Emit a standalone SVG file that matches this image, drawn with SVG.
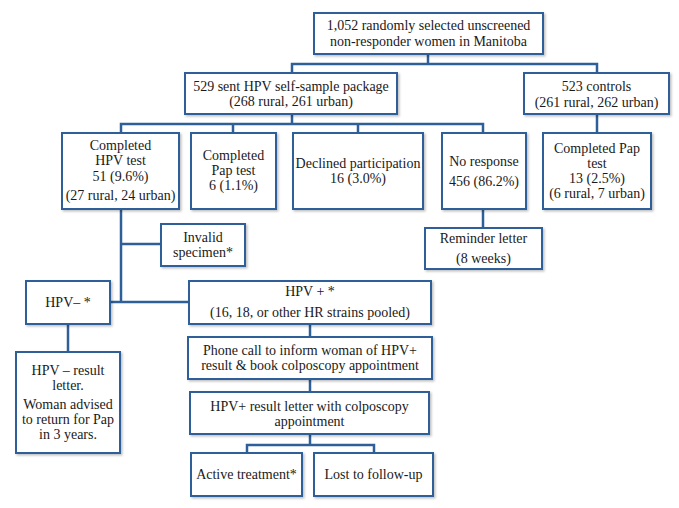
<svg xmlns="http://www.w3.org/2000/svg" width="679" height="508" viewBox="0 0 679 508">
<defs>
<filter id="sh" x="-5%" y="-5%" width="115%" height="120%">
<feDropShadow dx="1.5" dy="1.5" stdDeviation="0.8" flood-color="#000" flood-opacity="0.25"/>
</filter>
<style>
rect{fill:#fff;stroke:#2F5F98;stroke-width:2;filter:url(#sh)}
text{font-family:"Liberation Serif","Times New Roman",serif;font-size:14px;fill:#1a1a1a;text-anchor:middle}
.c path{fill:none;stroke:#2F5F98;stroke-width:2.5}
</style>
</defs>
<rect x="0" y="0" width="679" height="508" style="fill:#fff;stroke:none;filter:none"/>
<g class="c" id="connectors">
<path d="M428,54V64M292,73V64H597V73"/>
<path d="M292,114V124M121,133V124H483V133M233,124V133M358,124V133"/>
<path d="M597,114V133"/>
<path d="M483,209V228"/>
<path d="M121,209V302M121,244H161M110,302H189"/>
<path d="M68,324V352"/>
<path d="M310,324V337M310,379V392M310,434V445M247,453V445H374V453"/>
</g>
<g id="n-root"><rect x="314" y="13" width="229" height="41"/><text x="428.5" y="30">1,052 randomly selected unscreened</text><text x="428.5" y="46">non-responder women in Manitoba</text></g>
<g id="n-sent"><rect x="185" y="73" width="212" height="41"/><text x="291" y="91">529 sent HPV self-sample package</text><text x="291" y="106">(268 rural, 261 urban)</text></g>
<g id="n-controls"><rect x="524" y="73" width="145" height="41"/><text x="596.5" y="91">523 controls</text><text x="596.5" y="107">(261 rural, 262 urban)</text></g>
<g id="n-hpvtest"><rect x="62" y="133" width="117" height="76"/><text x="120.5" y="150">Completed</text><text x="120.5" y="165">HPV test</text><text x="120.5" y="181">51 (9.6%)</text><text x="120.5" y="200">(27 rural, 24 urban)</text></g>
<g id="n-paptest"><rect x="191" y="133" width="85" height="76"/><text x="233.5" y="160">Completed</text><text x="233.5" y="175">Pap test</text><text x="233.5" y="190">6 (1.1%)</text></g>
<g id="n-declined"><rect x="293" y="133" width="130" height="76"/><text x="358" y="168">Declined participation</text><text x="358" y="183">16 (3.0%)</text></g>
<g id="n-noresp"><rect x="442" y="133" width="84" height="76"/><text x="484" y="166">No response</text><text x="484" y="186">456 (86.2%)</text></g>
<g id="n-ctrlpap"><rect x="543" y="133" width="108" height="76"/><text x="597" y="153">Completed Pap</text><text x="597" y="168">test</text><text x="597" y="183">13 (2.5%)</text><text x="597" y="198">(6 rural, 7 urban)</text></g>
<g id="n-reminder"><rect x="425" y="228" width="117" height="41"/><text x="483.5" y="243">Reminder letter</text><text x="483.5" y="263">(8 weeks)</text></g>
<g id="n-invalid"><rect x="161" y="224" width="84" height="42"/><text x="203" y="242">Invalid</text><text x="203" y="257">specimen*</text></g>
<g id="n-hpvneg"><rect x="26" y="281" width="84" height="43"/><text x="68" y="307">HPV– *</text></g>
<g id="n-hpvpos"><rect x="189" y="281" width="242" height="43"/><text x="310" y="296">HPV + *</text><text x="310" y="317">(16, 18, or other HR strains pooled)</text></g>
<g id="n-negletter"><rect x="16" y="352" width="104" height="101"/><text x="68" y="375">HPV – result</text><text x="68" y="390">letter.</text><text x="68" y="409">Woman advised</text><text x="68" y="424">to return for Pap</text><text x="68" y="439">in 3 years.</text></g>
<g id="n-phone"><rect x="188" y="337" width="244" height="42"/><text x="310" y="355">Phone call to inform woman of HPV+</text><text x="310" y="370">result &amp; book colposcopy appointment</text></g>
<g id="n-posletter"><rect x="190" y="392" width="239" height="42"/><text x="309.5" y="411">HPV+ result letter with colposcopy</text><text x="309.5" y="426">appointment</text></g>
<g id="n-active"><rect x="191" y="453" width="111" height="43"/><text x="246.5" y="479">Active treatment*</text></g>
<g id="n-lost"><rect x="314" y="453" width="119" height="43"/><text x="373.5" y="479">Lost to follow-up</text></g>
</svg>
